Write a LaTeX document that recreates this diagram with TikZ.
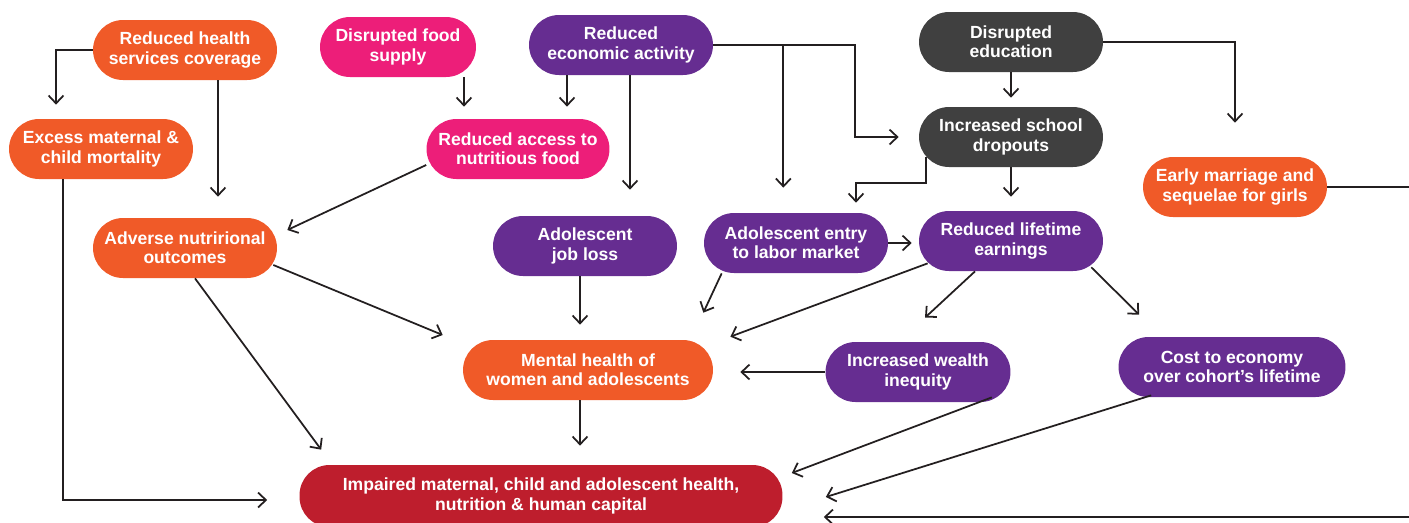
\documentclass[tikz,border=0pt]{standalone}
\usepackage{fontspec}
\setmainfont{Liberation Sans}
\usetikzlibrary{arrows.meta}
\definecolor{corange}{HTML}{F05A28}
\definecolor{cpink}{HTML}{ED1E79}
\definecolor{cpurple}{HTML}{662D91}
\definecolor{cgray}{HTML}{404040}
\definecolor{cred}{HTML}{BE1E2D}
\definecolor{cline}{HTML}{231F20}
\begin{document}
\begin{tikzpicture}[x=0.02cm,y=-0.02cm,
  pill/.style={rectangle, rounded corners=0.6cm, minimum height=1.2cm, minimum width=3.68cm,
    inner sep=0pt, text=white, align=center, font=\bfseries\fontsize{10}{10.9}\selectfont},
  arr/.style={draw=cline, line width=1pt, -{Straight Barb[length=4.5pt,width=8.5pt]}}]
\useasboundingbox (0,0) rectangle (1409,522);

\node[pill, fill=corange] (health) at (185,50) {Reduced health\\services coverage};
\node[pill, fill=cpink, minimum width=3.12cm] (food) at (398,47) {Disrupted food\\supply};
\node[pill, fill=cpurple] (econ) at (621,45) {Reduced\\economic activity};
\node[pill, fill=cgray] (edu) at (1011,42) {Disrupted\\education};

\node[pill, fill=corange] (mortal) at (101,149) {Excess maternal \&\\child mortality};
\node[pill, fill=cpink, minimum width=3.66cm] (access) at (518,149) {Reduced access to\\nutritious food};
\node[pill, fill=cgray] (dropout) at (1011,137) {Increased school\\dropouts};
\node[pill, fill=corange] (marriage) at (1235,187) {Early marriage and\\sequelae for girls};

\node[pill, fill=corange] (adverse) at (185,248) {Adverse nutrirional\\outcomes};
\node[pill, fill=cpurple] (jobloss) at (585,246) {Adolescent\\job loss};
\node[pill, fill=cpurple] (entry) at (796,243) {Adolescent entry\\to labor market};
\node[pill, fill=cpurple] (earnings) at (1011,241) {Reduced lifetime\\earnings};

\node[pill, fill=corange, minimum width=5cm] (mental) at (588,370) {Mental health of\\women and adolescents};
\node[pill, fill=cpurple, minimum width=3.7cm] (wealth) at (918,372) {Increased wealth\\inequity};
\node[pill, fill=cpurple, minimum width=4.54cm] (cost) at (1232,367) {Cost to economy\\over cohort’s lifetime};

\node[pill, fill=cred, minimum width=9.66cm, minimum height=1.24cm] (impaired) at (541,496) {Impaired maternal, child and adolescent health,\\nutrition \& human capital};

\path[arr, shorten >=0.28cm] (health.west) -| ([xshift=-0.9cm]mortal.north);
\path[arr, shorten >=0.42cm] ([xshift=0.66cm]health.south) -- ([xshift=0.66cm]adverse.north);
\path[arr, shorten >=0.24cm] ([xshift=1.32cm]food.south) -- ([xshift=1.32cm]food.south |- access.north);
\path[arr, shorten >=0.24cm] ([xshift=-1.08cm]econ.south) -- ([xshift=-1.08cm]econ.south |- access.north);
\path[arr, shorten >=0.52cm] ([xshift=0.18cm]econ.south) -- ([xshift=0.18cm]econ.south |- jobloss.north);
\path[arr, shorten >=0.4cm] (econ.east) -| ([xshift=-1.28cm]dropout.west) -- (dropout.west);
\path[arr, shorten >=0.5cm] ([xshift=1.4cm]econ.east) -- ([xshift=1.4cm]econ.east |- entry.north);
\path[arr, shorten >=0.18cm] (edu.south) -- (dropout.north);
\path[arr, shorten >=0.68cm] (edu.east) -| (marriage.north);
\path[arr, shorten >=0.2cm] ([xshift=0.14cm,yshift=0.2cm]dropout.south west) -- ++(0,26) -| ([xshift=1.2cm]entry.north);
\path[arr, shorten >=0.28cm] (dropout.south) -- (earnings.north);
\path[arr, shorten >=0.82cm] (marriage.east) -- ++(110,0) |- ([yshift=-0.42cm]impaired.east);

\path[arr] ([yshift=-0.32cm]access.west) -- ([xshift=0.2cm,yshift=0.36cm]adverse.east);
\path[arr] ([xshift=-0.08cm,yshift=-0.34cm]adverse.east) -- ([xshift=-0.4cm,yshift=0.7cm]mental.west);
\path[arr] ([xshift=0.2cm]adverse.south) -- ([xshift=0.44cm,yshift=0.3cm]impaired.north west);
\path[arr, shorten >=0.64cm] ([xshift=-0.76cm]mortal.south) |- ([yshift=-0.08cm]impaired.west);

\path[arr, shorten >=0.3cm] ([xshift=-0.1cm]jobloss.south) -- ([xshift=-0.1cm]jobloss.south |- mental.north);
\path[arr] ([xshift=0.36cm]entry.south west) -- ([xshift=-0.2cm,yshift=0.54cm]mental.north east);
\path[arr, shorten >=0.14cm] (entry.east) -- (entry.east -| earnings.west);
\path[arr] ([xshift=0.18cm,yshift=0.16cm]earnings.south west) -- ([xshift=0.34cm,yshift=0.06cm]mental.north east);
\path[arr] ([xshift=-0.72cm]earnings.south) -- ([xshift=0.14cm,yshift=0.48cm]wealth.north);
\path[arr] ([xshift=-0.24cm,yshift=0.08cm]earnings.south east) -- ([xshift=0.42cm,yshift=0.44cm]cost.north west);

\path[arr, shorten >=0.54cm] (wealth.west) -- (wealth.west -| mental.east);
\path[arr, shorten >=0.38cm] ([xshift=-0.16cm]mental.south) -- ([xshift=-0.16cm]mental.south |- impaired.north);
\path[arr] ([xshift=-0.38cm,yshift=0.1cm]wealth.south east) -- ([xshift=0.18cm,yshift=0.46cm]impaired.east);
\path[arr] ([xshift=0.66cm,yshift=0.04cm]cost.south west) -- ([xshift=0.86cm,yshift=-0.02cm]impaired.east);
\end{tikzpicture}
\end{document}
